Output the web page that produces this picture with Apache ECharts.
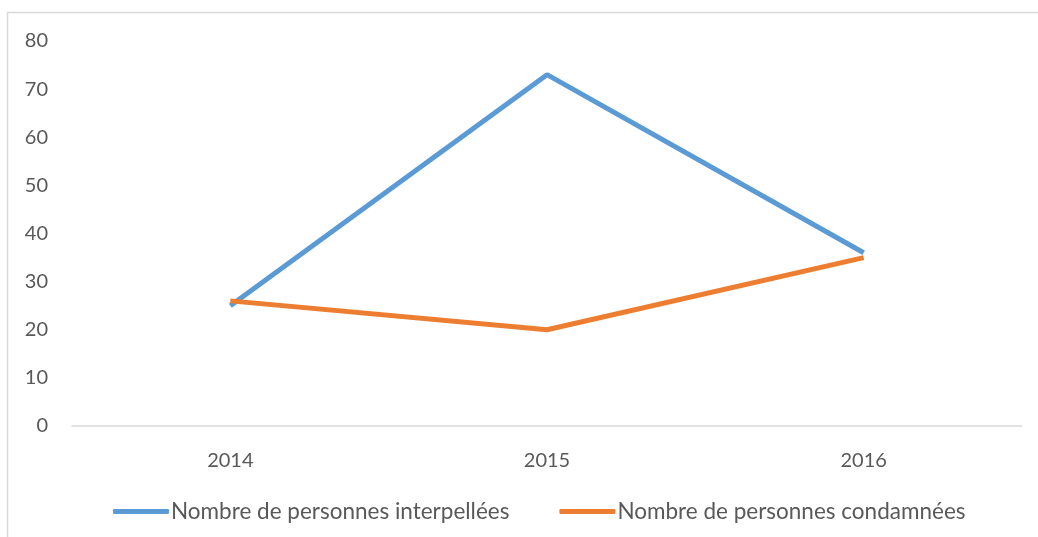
<!DOCTYPE html>
<html>
<head>
<meta charset="utf-8">
<script src="https://cdn.jsdelivr.net/npm/echarts@6/dist/echarts.min.js"></script>
<style>
  html, body { margin: 0; padding: 0; background: #fff; }
  #main { width: 1038px; height: 537px; }
</style>
</head>
<body>
<div id="main"></div>
<script>
// années
const years = ['2014', '2015', '2016'];
// séries
const interpellees = [25, 73, 36];
const condamnees = [26, 20, 35];
const seriesNames = ['Nombre de personnes interpellées', 'Nombre de personnes condamnées'];

var chart = echarts.init(document.getElementById('main'));
var font = 'Lato, Liberation Sans, Arial, sans-serif';

chart.setOption({
  animation: false,
  textStyle: { fontFamily: font },
  // cadre du graphique (seulement haut et gauche visibles)
  graphic: [{
    type: 'rect',
    shape: { x: 7.5, y: 12.5, width: 1100, height: 600 },
    style: { fill: 'none', stroke: '#d9d9d9', lineWidth: 1.5 },
    silent: true
  }],
  grid: { left: 72, right: 16, top: 41, bottom: 111, containLabel: false },
  legend: {
    bottom: 9,
    left: 108,
    icon: 'roundRect',
    itemWidth: 56,
    itemHeight: 5,
    itemGap: 50,
    textStyle: { fontSize: 22.5, color: '#595959', fontFamily: font, padding: [0, 0, 0, -3] },
    data: seriesNames
  },
  xAxis: {
    type: 'category',
    data: years,
    axisLine: { lineStyle: { color: '#d9d9d9', width: 1.5 } },
    axisTick: { show: false },
    axisLabel: { fontSize: 20, color: '#595959', margin: 25 }
  },
  yAxis: {
    type: 'value',
    min: 0,
    max: 80,
    interval: 10,
    axisLine: { show: false },
    axisTick: { show: false },
    splitLine: { show: false },
    axisLabel: { fontSize: 20, color: '#595959', margin: 24 }
  },
  series: [
    {
      name: seriesNames[0],
      type: 'line',
      data: interpellees,
      symbol: 'none',
      color: '#5b9bd5',
      lineStyle: { width: 5, color: '#5b9bd5' }
    },
    {
      name: seriesNames[1],
      type: 'line',
      data: condamnees,
      symbol: 'none',
      color: '#ed7d31',
      lineStyle: { width: 5, color: '#ed7d31' }
    }
  ]
});
</script>
</body>
</html>
